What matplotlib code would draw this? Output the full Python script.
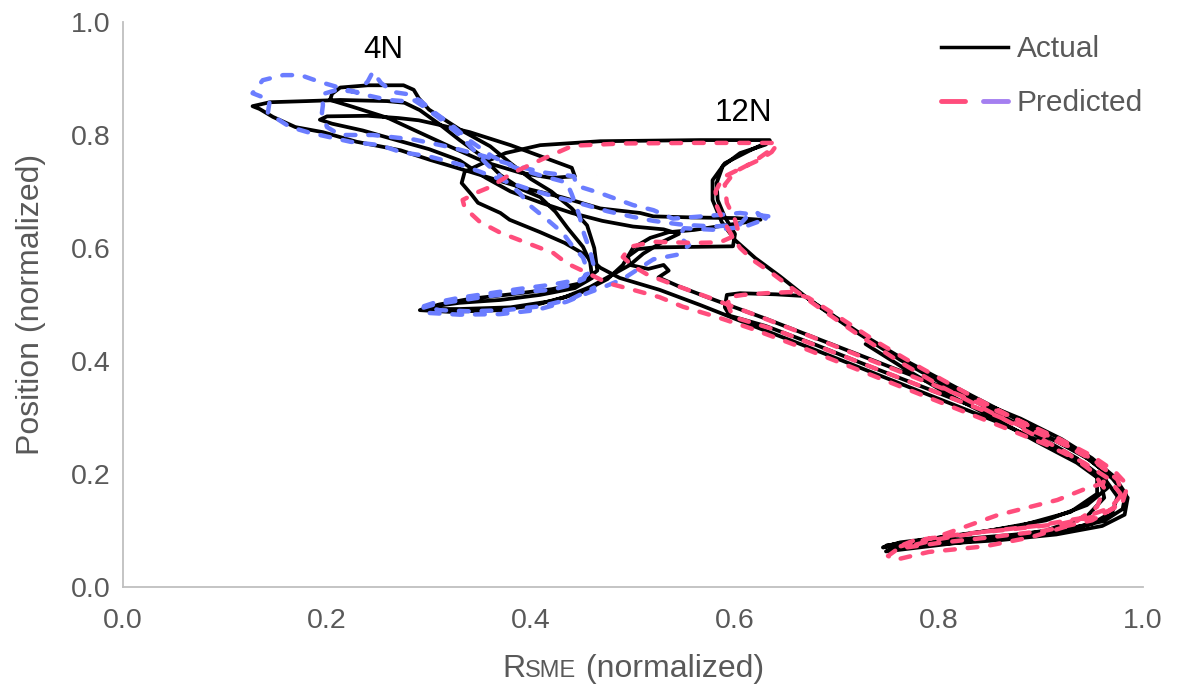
import matplotlib
matplotlib.use("Agg")
import matplotlib.pyplot as plt
from matplotlib.lines import Line2D
from matplotlib.legend_handler import HandlerTuple

plt.rcParams['font.family'] = ['Liberation Sans', 'DejaVu Sans']

# ---- 12N trial: measured trajectory -------------------------------------
actual_12n_x = [
    0.634, 0.566, 0.468, 0.409, 0.375, 0.355, 0.335, 0.332, 0.342, 0.348, 0.370, 0.379, 0.409, 0.433, 0.453, 0.468,
    0.487, 0.526, 0.566, 0.615, 0.664, 0.713, 0.762, 0.811, 0.860, 0.899, 0.938, 0.963, 0.975, 0.970, 0.950, 0.909,
    0.860, 0.811, 0.762, 0.745,
    0.762, 0.821, 0.879, 0.929, 0.955, 0.955, 0.935, 0.899, 0.860, 0.811, 0.762, 0.713, 0.674, 0.644, 0.620, 0.600,
    0.587, 0.578, 0.578, 0.590, 0.615, 0.634,
    0.630, 0.605, 0.588, 0.582, 0.583, 0.590, 0.600, 0.598, 0.560, 0.520, 0.505, 0.495, 0.497, 0.515, 0.530, 0.535,
    0.525, 0.545, 0.580, 0.630, 0.680, 0.730, 0.780, 0.830, 0.880, 0.920, 0.950, 0.972, 0.983, 0.980, 0.962, 0.925,
    0.870, 0.810, 0.760, 0.748,
    0.790, 0.850, 0.905, 0.945, 0.965, 0.962, 0.940, 0.905, 0.865, 0.820, 0.770, 0.720, 0.680, 0.668,
    0.640, 0.605, 0.592, 0.590, 0.595,
    0.630, 0.680, 0.730, 0.780, 0.830, 0.875, 0.915, 0.948, 0.970, 0.985, 0.982, 0.960, 0.915, 0.860, 0.800, 0.755,
    0.748,
    0.790, 0.850, 0.905, 0.945, 0.962, 0.958, 0.935, 0.895, 0.855, 0.810, 0.765, 0.728,
]
actual_12n_y = [
    0.791, 0.791, 0.789, 0.782, 0.768, 0.752, 0.735, 0.715, 0.694, 0.680, 0.662, 0.650, 0.628, 0.609, 0.588, 0.565,
    0.547, 0.526, 0.499, 0.464, 0.430, 0.395, 0.360, 0.325, 0.290, 0.258, 0.224, 0.190, 0.160, 0.133, 0.112, 0.097,
    0.088, 0.081, 0.075, 0.070,
    0.079, 0.092, 0.108, 0.133, 0.165, 0.195, 0.228, 0.265, 0.305, 0.352, 0.402, 0.458, 0.507, 0.550, 0.582, 0.614,
    0.646, 0.685, 0.720, 0.750, 0.773, 0.789,
    0.783, 0.768, 0.745, 0.715, 0.685, 0.655, 0.625, 0.603, 0.602, 0.601, 0.598, 0.585, 0.570, 0.563, 0.570, 0.560,
    0.548, 0.532, 0.508, 0.475, 0.440, 0.405, 0.370, 0.335, 0.298, 0.262, 0.228, 0.195, 0.165, 0.138, 0.117, 0.102,
    0.092, 0.083, 0.077, 0.073,
    0.085, 0.100, 0.118, 0.145, 0.175, 0.205, 0.235, 0.268, 0.308, 0.350, 0.398, 0.452, 0.500, 0.515,
    0.518, 0.520, 0.517, 0.495, 0.480,
    0.462, 0.428, 0.392, 0.357, 0.322, 0.290, 0.258, 0.225, 0.192, 0.158, 0.128, 0.108, 0.093, 0.083, 0.076, 0.068,
    0.063,
    0.072, 0.085, 0.100, 0.125, 0.158, 0.190, 0.220, 0.258, 0.298, 0.340, 0.388, 0.430,
]

# ---- 12N trial: model prediction ---------------------------------------
pred_12n_x = [
    0.636, 0.560, 0.490, 0.441, 0.412, 0.382, 0.360, 0.348, 0.333, 0.335, 0.350, 0.370, 0.396, 0.422, 0.435, 0.455,
    0.475, 0.500, 0.526, 0.549, 0.582, 0.615, 0.664, 0.713, 0.762, 0.811, 0.860, 0.905, 0.942, 0.966, 0.978, 0.972,
    0.950, 0.905, 0.850, 0.800, 0.760, 0.750, 0.757,
    0.790, 0.845, 0.890, 0.930, 0.955, 0.962, 0.950, 0.925, 0.890, 0.850, 0.805, 0.760, 0.718, 0.682, 0.655, 0.635,
    0.618, 0.605, 0.597, 0.588, 0.582, 0.581, 0.588, 0.607, 0.625, 0.636, 0.640,
    0.632, 0.618, 0.600, 0.590, 0.592, 0.600, 0.604, 0.585, 0.560, 0.520, 0.497, 0.490, 0.500, 0.515, 0.540, 0.575,
    0.625, 0.675, 0.725, 0.775, 0.825, 0.872, 0.915, 0.950, 0.972, 0.985, 0.980, 0.960, 0.920, 0.870, 0.820, 0.775,
    0.758,
    0.800, 0.857, 0.916, 0.941, 0.961, 0.965, 0.945, 0.910, 0.870, 0.828, 0.782, 0.738, 0.700, 0.672, 0.654,
    0.630, 0.608, 0.593, 0.594, 0.598,
    0.640, 0.690, 0.740, 0.790, 0.840, 0.885, 0.925, 0.955, 0.975, 0.980, 0.968, 0.940, 0.895, 0.845, 0.800, 0.770,
]
pred_12n_y = [
    0.786, 0.786, 0.785, 0.781, 0.758, 0.733, 0.708, 0.699, 0.685, 0.671, 0.646, 0.627, 0.609, 0.591, 0.573, 0.556,
    0.538, 0.526, 0.513, 0.496, 0.478, 0.458, 0.425, 0.390, 0.355, 0.320, 0.285, 0.252, 0.220, 0.192, 0.165, 0.140,
    0.118, 0.100, 0.088, 0.078, 0.068, 0.055, 0.048,
    0.062, 0.072, 0.088, 0.110, 0.142, 0.175, 0.205, 0.238, 0.272, 0.310, 0.352, 0.400, 0.450, 0.495, 0.530, 0.557,
    0.578, 0.600, 0.622, 0.650, 0.675, 0.700, 0.725, 0.742, 0.757, 0.770, 0.780,
    0.770, 0.752, 0.735, 0.712, 0.680, 0.650, 0.625, 0.610, 0.609, 0.611, 0.602, 0.584, 0.568, 0.552, 0.535, 0.512,
    0.478, 0.443, 0.407, 0.372, 0.336, 0.300, 0.265, 0.232, 0.205, 0.180, 0.150, 0.128, 0.112, 0.102, 0.093, 0.082,
    0.070,
    0.090, 0.127, 0.154, 0.172, 0.184, 0.205, 0.232, 0.265, 0.302, 0.342, 0.388, 0.435, 0.480, 0.512, 0.522,
    0.520, 0.517, 0.513, 0.495, 0.478,
    0.455, 0.420, 0.385, 0.350, 0.315, 0.282, 0.250, 0.220, 0.190, 0.165, 0.140, 0.122, 0.108, 0.098, 0.085, 0.072,
]

# ---- 4N trial: measured trajectory --------------------------------------
actual_4n_x = [
    0.625, 0.600, 0.560, 0.520, 0.507, 0.468, 0.430, 0.389, 0.340, 0.301, 0.272, 0.229, 0.196, 0.169, 0.147, 0.134,
    0.127, 0.144, 0.180, 0.213, 0.259, 0.276, 0.291, 0.311, 0.330, 0.350, 0.370, 0.392, 0.409, 0.424, 0.436, 0.451,
    0.458, 0.460, 0.443, 0.409, 0.370, 0.330, 0.301, 0.291, 0.320, 0.370, 0.404, 0.433, 0.458, 0.477, 0.497,
    0.510, 0.530, 0.545, 0.530, 0.500, 0.470, 0.440, 0.410, 0.380, 0.355, 0.330, 0.300, 0.270, 0.235, 0.205, 0.193,
    0.200, 0.240, 0.270, 0.290, 0.310, 0.340, 0.380, 0.410, 0.440, 0.443, 0.420, 0.390, 0.355, 0.320, 0.290, 0.260,
    0.225, 0.203, 0.205, 0.213, 0.240, 0.275, 0.285, 0.290, 0.300, 0.330, 0.360, 0.380, 0.400, 0.420, 0.440, 0.455,
    0.462, 0.465, 0.450, 0.420, 0.380, 0.340, 0.310, 0.295, 0.330, 0.380, 0.420, 0.450, 0.475, 0.490, 0.500,
    0.517, 0.535, 0.560, 0.590, 0.620,
]
actual_4n_y = [
    0.650, 0.653, 0.654, 0.656, 0.662, 0.670, 0.690, 0.708, 0.735, 0.756, 0.773, 0.788, 0.805, 0.814, 0.832, 0.846,
    0.851, 0.858, 0.860, 0.862, 0.860, 0.857, 0.844, 0.818, 0.791, 0.765, 0.729, 0.703, 0.690, 0.664, 0.635, 0.602,
    0.575, 0.547, 0.529, 0.517, 0.508, 0.503, 0.496, 0.490, 0.487, 0.490, 0.499, 0.513, 0.531, 0.550, 0.570,
    0.590, 0.612, 0.625, 0.633, 0.638, 0.648, 0.662, 0.680, 0.700, 0.725, 0.755, 0.775, 0.790, 0.808, 0.820, 0.827,
    0.833, 0.834, 0.830, 0.826, 0.818, 0.805, 0.782, 0.762, 0.742, 0.727, 0.724, 0.733, 0.752, 0.780, 0.805, 0.830,
    0.850, 0.862, 0.873, 0.884, 0.888, 0.888, 0.880, 0.865, 0.845, 0.810, 0.780, 0.750, 0.722, 0.700, 0.670, 0.640,
    0.600, 0.560, 0.538, 0.527, 0.518, 0.510, 0.500, 0.492, 0.492, 0.495, 0.506, 0.522, 0.545, 0.570, 0.600,
    0.618, 0.628, 0.632, 0.640, 0.648,
]

# ---- 4N trial: model prediction ----------------------------------------
pred_4n_x = [
    0.630, 0.622, 0.612, 0.605, 0.580, 0.560, 0.545, 0.520, 0.500, 0.475, 0.450, 0.425, 0.400, 0.375, 0.350, 0.330,
    0.300, 0.272, 0.252, 0.223, 0.183, 0.164, 0.142, 0.144, 0.127, 0.137, 0.157, 0.174, 0.193, 0.210, 0.235, 0.260,
    0.275, 0.285, 0.295, 0.310, 0.330, 0.343, 0.357, 0.373, 0.389, 0.399, 0.416, 0.431, 0.440, 0.451, 0.455, 0.452,
    0.440, 0.420, 0.390, 0.360, 0.330, 0.305, 0.292, 0.300, 0.330, 0.370, 0.405, 0.435, 0.455, 0.470,
    0.490, 0.507, 0.520, 0.543, 0.555, 0.545, 0.550, 0.582, 0.610, 0.625, 0.633, 0.605, 0.575, 0.539, 0.520, 0.500,
    0.468, 0.445, 0.442, 0.415, 0.385, 0.355, 0.322, 0.285, 0.245, 0.213, 0.200, 0.195, 0.196, 0.195, 0.210, 0.230,
    0.240, 0.245, 0.253, 0.265, 0.280, 0.292, 0.303, 0.322, 0.340, 0.362, 0.385, 0.410, 0.435, 0.440, 0.447, 0.452,
    0.458, 0.462, 0.450, 0.420, 0.390, 0.360, 0.330, 0.305, 0.295, 0.310, 0.340, 0.375, 0.410, 0.440, 0.462,
]
pred_4n_y = [
    0.652, 0.662, 0.656, 0.642, 0.638, 0.640, 0.642, 0.648, 0.655, 0.665, 0.678, 0.690, 0.703, 0.718, 0.735, 0.748,
    0.762, 0.770, 0.782, 0.788, 0.804, 0.814, 0.839, 0.862, 0.874, 0.897, 0.906, 0.906, 0.894, 0.885, 0.872, 0.862,
    0.860, 0.862, 0.850, 0.830, 0.800, 0.775, 0.748, 0.722, 0.697, 0.675, 0.650, 0.627, 0.605, 0.583, 0.562, 0.545,
    0.535, 0.526, 0.522, 0.515, 0.507, 0.500, 0.493, 0.485, 0.482, 0.483, 0.490, 0.505, 0.520, 0.530,
    0.545, 0.565, 0.580, 0.588, 0.605, 0.620, 0.635, 0.632, 0.638, 0.648, 0.656, 0.662, 0.657, 0.652, 0.667, 0.676,
    0.697, 0.710, 0.727, 0.733, 0.745, 0.762, 0.778, 0.792, 0.800, 0.800, 0.814, 0.839, 0.853, 0.872, 0.880, 0.876,
    0.895, 0.912, 0.892, 0.876, 0.872, 0.860, 0.843, 0.818, 0.790, 0.762, 0.742, 0.728, 0.716, 0.695, 0.660, 0.625,
    0.595, 0.565, 0.545, 0.535, 0.528, 0.520, 0.512, 0.503, 0.497, 0.490, 0.488, 0.490, 0.497, 0.510, 0.530,
]

x_ticks = [0.0, 0.2, 0.4, 0.6, 0.8, 1.0]
y_ticks = [0.0, 0.2, 0.4, 0.6, 0.8, 1.0]

ACTUAL = "black"
PINK = "#ff4d7c"
BLUE = "#6b7dff"
MIX = "#a47ff0"
GREY_TXT = "#595959"
GREY_AX = "#bfbfbf"
FS_TICK = 20.5
FS_LAB = 23
FS_LEG = 21.5

fig = plt.figure(figsize=(11.77, 6.92), dpi=100)
ax = fig.add_axes([123 / 1177, 1 - 587 / 692, 1020 / 1177, 565 / 692])

solid = dict(color=ACTUAL, lw=2.7, solid_joinstyle="round", solid_capstyle="round")
dashed = dict(lw=3.2, linestyle=(0, (2.2, 2.9)), dash_capstyle="round", dash_joinstyle="round")

ax.plot(actual_4n_x, actual_4n_y, **solid, zorder=2)
ax.plot(actual_12n_x, actual_12n_y, **solid, zorder=2)
ax.plot(pred_4n_x, pred_4n_y, color=BLUE, **dashed, zorder=3)
ax.plot(pred_12n_x, pred_12n_y, color=PINK, **dashed, zorder=3)

ax.text(0.255, 0.950, "4N", fontsize=22.5, ha="center", va="center", color="black")
ax.text(0.608, 0.839, "12N", fontsize=22.5, ha="center", va="center", color="black")

ax.set_xlim(0, 1)
ax.set_ylim(0, 1)
ax.set_xticks(x_ticks)
ax.set_yticks(y_ticks)
ax.set_xticklabels([f"{v:.1f}" for v in x_ticks])
ax.set_yticklabels([f"{v:.1f}" for v in y_ticks])
ax.tick_params(axis="both", length=0, labelsize=FS_TICK, labelcolor=GREY_TXT)
ax.tick_params(axis="x", pad=15)
ax.tick_params(axis="y", pad=9)
for side in ("top", "right"):
    ax.spines[side].set_visible(False)
for side in ("left", "bottom"):
    ax.spines[side].set_color(GREY_AX)
    ax.spines[side].set_linewidth(1.3)

ax.set_ylabel("Position (normalized)", fontsize=FS_LAB, color=GREY_TXT, labelpad=18)

# x label with small-caps "SME"
renderer = fig.canvas.get_renderer()
parts = [("R", FS_LAB), ("SME", FS_LAB * 0.74), (" (normalized)", FS_LAB)]
texts = [fig.text(0, 1 - 677 / 692, s, fontsize=fs, color=GREY_TXT, va="baseline", ha="left")
         for s, fs in parts]
widths = [t.get_window_extent(renderer).width for t in texts]
x0 = 633 - sum(widths) / 2
for t, w in zip(texts, widths):
    t.set_x(x0 / 1177)
    x0 += w

h_act = Line2D([], [], color=ACTUAL, lw=2.5)
h_p1 = Line2D([], [], color=PINK, lw=3.5, solid_capstyle="round")
h_p2 = Line2D([], [], color=MIX, lw=3.5, solid_capstyle="round")
leg = ax.legend([h_act, (h_p1, h_p2)], ["Actual", "Predicted"],
                handler_map={tuple: HandlerTuple(ndivide=None, pad=0.6)},
                loc="upper right", bbox_to_anchor=(1.0, 0.977), frameon=False,
                fontsize=FS_LEG, handlelength=2.25, handletextpad=0.3, labelspacing=0.88,
                borderpad=0, borderaxespad=0)
for t in leg.get_texts():
    t.set_color(GREY_TXT)

fig.savefig("out.png", dpi=100, facecolor="white")
